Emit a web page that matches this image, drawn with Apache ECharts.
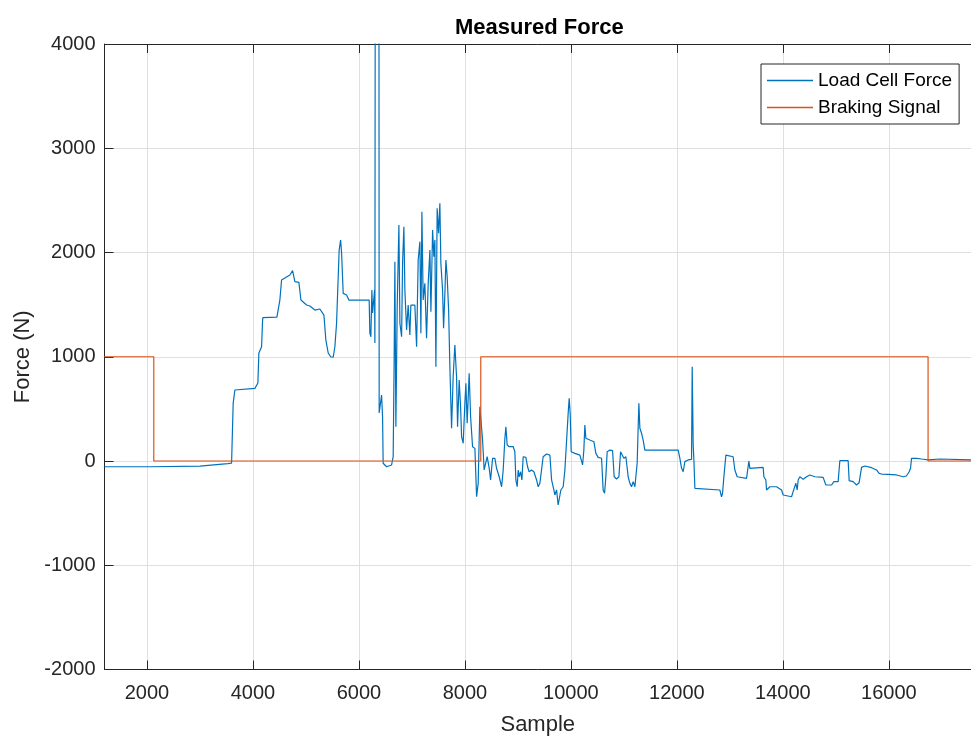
<!DOCTYPE html>
<html>
<head>
<meta charset="utf-8">
<title>Measured Force</title>
<script src="https://cdn.jsdelivr.net/npm/echarts@6/dist/echarts.min.js"></script>
<style>
  html, body { margin: 0; padding: 0; background: #fff; }
  #forceChart { width: 971px; height: 742px; }
</style>
</head>
<body>
<div id="forceChart"></div>
<script>
// load cell trace (sample, N)
const forceSamples = [
  1200, 2060, 3000, 3315, 3528, 3598, 3628, 3660, 4038, 4094, 4113, 4164, 4183, 4189, 4453,
  4509, 4541, 4698, 4749, 4792, 4868, 4906, 5013, 5075, 5170, 5264, 5340, 5377, 5421, 5466,
  5515, 5547, 5579, 5628, 5655, 5674, 5704, 5768, 5811, 6194, 6207, 6226, 6245, 6258, 6296,
  6302, 6311, 6377, 6383, 6428, 6447, 6458, 6522, 6617, 6647, 6666, 6679, 6698, 6723, 6755,
  6774, 6806, 6825, 6849, 6868, 6900, 6930, 6962, 6981, 7056, 7089, 7119, 7151, 7170, 7189,
  7213, 7245, 7277, 7308, 7340, 7359, 7391, 7415, 7434, 7453, 7477, 7504, 7528, 7547, 7579,
  7598, 7623, 7642, 7666, 7693, 7717, 7749, 7779, 7811, 7843, 7862, 7892, 7919, 7938, 7968,
  8000, 8019, 8043, 8081, 8108, 8145, 8189, 8221, 8251, 8283, 8302, 8334, 8364, 8396, 8421,
  8459, 8485, 8523, 8566, 8598, 8647, 8693, 8723, 8755, 8774, 8798, 8836, 8912, 8943, 8962,
  8987, 9006, 9025, 9051, 9076, 9100, 9151, 9183, 9213, 9258, 9302, 9353, 9383, 9415, 9447,
  9477, 9541, 9604, 9636, 9679, 9698, 9730, 9760, 9779, 9811, 9855, 9887, 9919, 9949, 9968,
  9987, 10006, 10075, 10170, 10221, 10245, 10264, 10283, 10358, 10434, 10472, 10515, 10579, 10609, 10636,
  10660, 10685, 10736, 10787, 10817, 10862, 10906, 10938, 10975, 11000, 11038, 11081, 11113, 11145, 11175,
  11208, 11226, 11251, 11270, 11283, 11302, 11334, 11364, 11396, 12025, 12057, 12089, 12119, 12151, 12213,
  12277, 12289, 12308, 12321, 12340, 12372, 12811, 12843, 12862, 12887, 12925, 13062, 13094, 13138, 13315,
  13345, 13359, 13377, 13409, 13628, 13642, 13679, 13692, 13755, 13881, 13975, 14006, 14038, 14164, 14194,
  14245, 14270, 14289, 14321, 14383, 14447, 14509, 14604, 14760, 14811, 14919, 14962, 15043, 15075, 15232,
  15251, 15326, 15390, 15439, 15485, 15547, 15674, 15768, 15817, 15862, 15892, 15987, 16145, 16270, 16330,
  16383, 16409, 16428, 16523, 16617, 16741, 16961, 17560
];
const forceValues = [
  -55, -55, -50, -35, -25, -20, 553, 681, 697, 748, 1036, 1096, 1352, 1375, 1381,
  1544, 1736, 1784, 1826, 1720, 1714, 1544, 1496, 1487, 1448, 1458, 1400, 1160, 1036, 1000,
  995, 1096, 1324, 2024, 2120, 1992, 1608, 1592, 1544, 1544, 1228, 1192, 1640, 1420, 1640,
  1132, 6000, 6000, 460, 633, 425, -22, -55, -38, 41, 1000, 1912, 329, 1480, 2264,
  1321, 1192, 1912, 2247, 1640, 1257, 1496, 1209, 1496, 1496, 1096, 1928, 2104, 1225, 2391,
  1544, 1704, 1177, 1704, 2024, 1432, 2216, 1960, 2120, 904, 2424, 2184, 2472, 1896, 1640,
  1273, 1608, 1928, 1768, 1448, 904, 314, 809, 1113, 809, 329, 777, 521, 233, 170,
  553, 745, 362, 841, 425, 137, 121, -343, -214, 521, 537, 201, -86, -103, 41,
  -70, -182, 26, 26, -70, -151, -247, -86, 218, 329, 153, 137, 137, 89, -182,
  -247, -86, -151, -103, -182, 41, 35, -55, -103, -86, -103, -182, -247, -214, -198,
  41, 67, 57, -182, -278, -326, -278, -422, -438, -278, -247, -86, -70, 457, 601,
  457, 89, 73, 57, -38, 105, 345, 218, 201, 185, 73, 35, 26, -278, -310,
  -151, 89, 105, 99, -151, -173, -151, 89, 99, 26, 41, -151, -214, -247, -198,
  -247, -151, -22, 329, 553, 314, 266, 201, 105, 105, 26, -70, -103, -6, 10,
  16, 905, 153, 10, -262, -278, -278, -343, -310, -151, 57, 41, -86, -151, -166,
  -182, 0, -70, -61, -61, -151, -182, -278, -247, -247, -278, -326, -343, -343, -294,
  -214, -278, -182, -151, -176, -151, -134, -151, -157, -230, -230, -198, -198, 3, 3,
  -189, -198, -230, -208, -61, -48, -64, -86, -118, -125, -144, -128, -134, -151, -144,
  -103, -70, 26, 26, 19, 10, 19, 10
];

const brakeSamples = [1200, 2130, 2130, 8300, 8300, 16740, 16740, 17560];
const brakeValues = [1000, 1000, 0, 0, 1000, 1000, 0, 0];

const yTicks = [-2000, -1000, 0, 1000, 2000, 3000, 4000];

const forceData = forceSamples.map((s, i) => [s, forceValues[i]]);
const brakeData = brakeSamples.map((s, i) => [s, brakeValues[i]]);

const axisColor = '#262626';
const gridColor = '#dfdfdf';
const xMin = 1200, xMax = 17550;

let chart = echarts.init(document.getElementById('forceChart'));

let option = {
    animation: false,
    backgroundColor: '#ffffff',
    textStyle: { fontFamily: '"Liberation Sans", Arial, Helvetica, sans-serif' },
    title: {
        text: 'Measured Force',
        left: 450,
        top: 12,
        textStyle: { fontSize: 22, fontWeight: 'bold', color: '#000' }
    },
    legend: {
        orient: 'vertical',
        left: 761,
        top: 64,
        padding: [6, 7, 6, 6],
        itemGap: 6,
        itemWidth: 46,
        itemHeight: 1.4,
        icon: 'rect',
        borderColor: axisColor,
        borderWidth: 1,
        backgroundColor: '#fff',
        textStyle: { fontSize: 19, color: '#000', lineHeight: 21 },
        data: ['Load Cell Force', 'Braking Signal']
    },
    grid: { left: 104.5, right: 0, top: 44, bottom: 72.5 },
    xAxis: [
        {
            type: 'value',
            min: xMin,
            max: xMax,
            minInterval: 2000,
            maxInterval: 2000,
            name: 'Sample',
            nameLocation: 'middle',
            nameGap: 44,
            nameTextStyle: { fontSize: 22, color: axisColor },
            axisLine: { show: true, onZero: false, lineStyle: { color: axisColor, width: 1 } },
            axisTick: { show: true, inside: true, length: 9, lineStyle: { color: axisColor } },
            axisLabel: {
                fontSize: 20, color: axisColor, margin: 14,
                showMinLabel: false, showMaxLabel: false,
                formatter: v => String(v)
            },
            splitLine: { show: true, lineStyle: { color: gridColor, width: 1 } }
        },
        {
            type: 'value',
            position: 'top',
            min: xMin,
            max: xMax,
            minInterval: 2000,
            maxInterval: 2000,
            axisLine: { show: true, onZero: false, lineStyle: { color: axisColor, width: 1 } },
            axisTick: { show: true, inside: true, length: 9, lineStyle: { color: axisColor } },
            axisLabel: { show: false },
            splitLine: { show: false }
        }
    ],
    yAxis: {
        type: 'value',
        min: -2000,
        max: 4000,
        interval: 1000,
        name: 'Force (N)',
        nameLocation: 'middle',
        nameGap: 62,
        nameTextStyle: { fontSize: 22, color: axisColor },
        axisLine: { show: true, onZero: false, lineStyle: { color: axisColor, width: 1 } },
        axisTick: { show: true, inside: true, length: 9, lineStyle: { color: axisColor } },
        axisLabel: {
            fontSize: 20, color: axisColor, margin: 9,
            formatter: v => (yTicks.indexOf(v) >= 0 ? String(v) : '')
        },
        splitLine: { show: true, lineStyle: { color: gridColor, width: 1 } }
    },
    series: [
        {
            name: 'Load Cell Force',
            type: 'line',
            xAxisIndex: 0,
            data: forceData,
            symbol: 'none',
            clip: true,
            color: '#0072BD',
            lineStyle: { color: '#0072BD', width: 1.2 }
        },
        {
            name: 'Braking Signal',
            type: 'line',
            xAxisIndex: 0,
            data: brakeData,
            symbol: 'none',
            clip: true,
            color: '#D95319',
            lineStyle: { color: '#D95319', width: 1.2 }
        }
    ]
};

chart.setOption(option);
</script>
</body>
</html>
